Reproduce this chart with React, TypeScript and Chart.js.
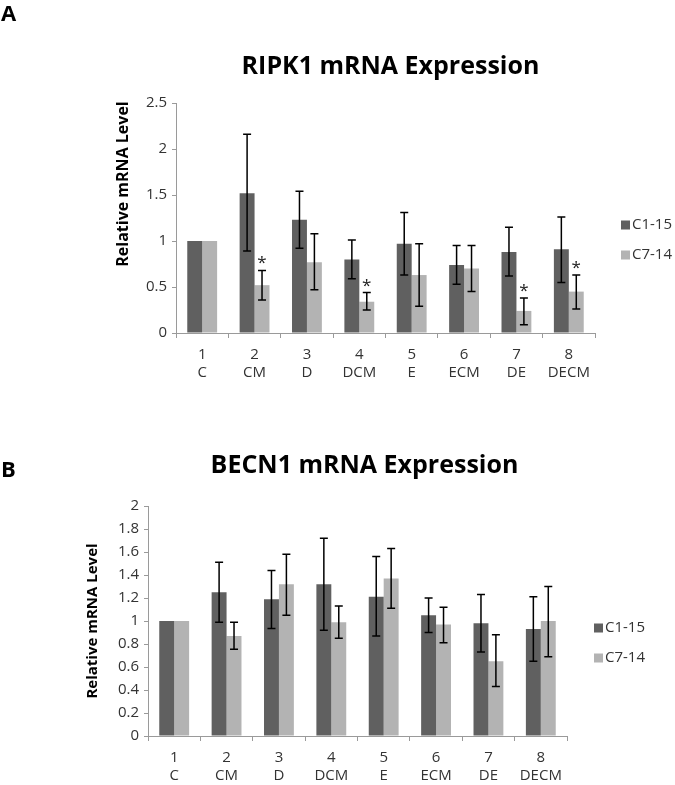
import React, { useEffect, useRef } from "react";
import { Chart, registerables } from "chart.js";

Chart.register(...registerables);

const categoryNumbers = ["1", "2", "3", "4", "5", "6", "7", "8"];
const categoryNames = ["C", "CM", "D", "DCM", "E", "ECM", "DE", "DECM"];
const seriesNames = ["C1-15", "C7-14"];
const seriesColors = ["#606060", "#b3b3b3"];
const yAxisTitle = "Relative mRNA Level";

const ripk1C115 = [1, 1.52, 1.23, 0.8, 0.97, 0.74, 0.88, 0.91];
const ripk1C115Low = [1, 0.89, 0.92, 0.59, 0.63, 0.53, 0.62, 0.55];
const ripk1C115High = [1, 2.16, 1.54, 1.01, 1.31, 0.95, 1.15, 1.26];
const ripk1C714 = [1, 0.52, 0.77, 0.34, 0.63, 0.7, 0.24, 0.45];
const ripk1C714Low = [1, 0.36, 0.47, 0.25, 0.29, 0.45, 0.09, 0.26];
const ripk1C714High = [1, 0.68, 1.08, 0.44, 0.97, 0.95, 0.38, 0.63];
const ripk1C714Sig = [false, true, false, true, false, false, true, true];

const becn1C115 = [1, 1.25, 1.19, 1.32, 1.21, 1.05, 0.98, 0.93];
const becn1C115Low = [1, 0.99, 0.935, 0.92, 0.87, 0.9, 0.73, 0.65];
const becn1C115High = [1, 1.51, 1.44, 1.72, 1.56, 1.2, 1.23, 1.21];
const becn1C714 = [1, 0.87, 1.32, 0.99, 1.37, 0.97, 0.65, 1.0];
const becn1C714Low = [1, 0.755, 1.05, 0.85, 1.11, 0.81, 0.43, 0.69];
const becn1C714High = [1, 0.99, 1.58, 1.13, 1.63, 1.12, 0.88, 1.3];
const noSig = [false, false, false, false, false, false, false, false];

const FONT = "'Open Sans', 'DejaVu Sans', sans-serif";

const annotatePlugin = {
  id: "annotate",
  afterDatasetsDraw(chart: any, _args: any, opts: any) {
    const ctx = chart.ctx;
    const ys = chart.scales.y;
    ctx.save();
    opts.errors.forEach((err: any, di: number) => {
      const meta = chart.getDatasetMeta(di);
      meta.data.forEach((bar: any, i: number) => {
        const lo = err.low[i];
        const hi = err.high[i];
        const yHi = ys.getPixelForValue(hi);
        if (hi > lo) {
          const yLo = ys.getPixelForValue(lo);
          ctx.strokeStyle = "#000";
          ctx.lineWidth = 1.5;
          ctx.beginPath();
          ctx.moveTo(bar.x, yHi);
          ctx.lineTo(bar.x, yLo);
          ctx.moveTo(bar.x - 4, yHi);
          ctx.lineTo(bar.x + 4, yHi);
          ctx.moveTo(bar.x - 4, yLo);
          ctx.lineTo(bar.x + 4, yLo);
          ctx.stroke();
        }
        if (err.sig[i]) {
          ctx.fillStyle = "#222";
          ctx.font = `17px ${FONT}`;
          ctx.textAlign = "center";
          ctx.textBaseline = "alphabetic";
          ctx.fillText("*", bar.x, yHi - 2);
        }
      });
    });
    ctx.restore();
  },
  afterDraw(chart: any, _args: any, opts: any) {
    const ctx = chart.ctx;
    const area = chart.chartArea;
    ctx.save();
    // panel label
    ctx.fillStyle = "#000";
    ctx.font = `bold 22px ${FONT}`;
    ctx.textAlign = "left";
    ctx.textBaseline = "middle";
    ctx.fillText(opts.panel, 1, opts.panelY);
    // title
    ctx.font = `bold 25px ${FONT}`;
    ctx.textAlign = "center";
    ctx.fillText(opts.title, (area.left + area.right) / 2 + opts.titleDx, opts.titleY);
    // y axis title
    ctx.save();
    ctx.translate(area.left - opts.yTitleDx, (area.top + area.bottom) / 2 + opts.yTitleDy);
    ctx.rotate(-Math.PI / 2);
    ctx.font = `bold ${opts.yTitleSize}px ${FONT}`;
    ctx.textAlign = "center";
    ctx.textBaseline = "middle";
    ctx.fillText(yAxisTitle, 0, 0);
    ctx.restore();
    // legend
    const cy = (area.top + area.bottom) / 2 + 22;
    ctx.font = `15px ${FONT}`;
    ctx.textAlign = "left";
    ctx.textBaseline = "middle";
    seriesNames.forEach((name, i) => {
      const y = cy + (i === 0 ? -15 : 15);
      const x = area.right + opts.legendDx;
      ctx.fillStyle = seriesColors[i];
      ctx.fillRect(x, y - 4.5, 9, 9);
      ctx.fillStyle = "#333";
      ctx.fillText(name, x + 11, y);
    });
    ctx.restore();
  },
};

type Spec = {
  panel: string;
  panelY: number;
  title: string;
  titleY: number;
  titleDx: number;
  legendDx: number;
  yTitleDx: number;
  yTitleDy: number;
  yTitleSize: number;
  max: number;
  step: number;
  c115: number[];
  c714: number[];
  errors: { low: number[]; high: number[]; sig: boolean[] }[];
  padding: { left: number; right: number; top: number; bottom: number };
  yWidth: number;
  xHeight: number;
};

function makeChart(canvas: HTMLCanvasElement, s: Spec) {
  const labels = categoryNumbers.map((n, i) => [n, categoryNames[i]]);
  return new Chart(canvas, {
    type: "bar",
    data: {
      labels,
      datasets: [
        { label: seriesNames[0], data: s.c115, backgroundColor: seriesColors[0], borderWidth: 0 },
        { label: seriesNames[1], data: s.c714, backgroundColor: seriesColors[1], borderWidth: 0 },
      ],
    },
    plugins: [annotatePlugin as any],
    options: {
      animation: false,
      responsive: false,
      events: [],
      layout: { padding: s.padding },
      datasets: { bar: { categoryPercentage: 0.57, barPercentage: 1 } },
      plugins: {
        legend: { display: false },
        tooltip: { enabled: false },
        annotate: {
          errors: s.errors,
          panel: s.panel,
          panelY: s.panelY,
          title: s.title,
          titleY: s.titleY,
          titleDx: s.titleDx,
          legendDx: s.legendDx,
          yTitleDx: s.yTitleDx,
          yTitleDy: s.yTitleDy,
          yTitleSize: s.yTitleSize,
        },
      } as any,
      scales: {
        x: {
          offset: true,
          afterFit: (sc: any) => {
            sc.height = s.xHeight;
          },
          grid: {
            offset: true,
            drawOnChartArea: false,
            drawTicks: true,
            tickLength: 5,
            color: "#9a9a9a",
          },
          border: { display: true, color: "#9a9a9a", width: 1 },
          ticks: {
            color: "#333",
            padding: 7,
            maxRotation: 0,
            autoSkip: false,
            font: { family: FONT, size: 15, lineHeight: 1.25 },
          },
        },
        y: {
          min: 0,
          max: s.max,
          afterFit: (sc: any) => {
            sc.width = s.yWidth;
          },
          grid: {
            drawOnChartArea: false,
            drawTicks: true,
            tickLength: 4,
            color: "#9a9a9a",
          },
          border: { display: true, color: "#9a9a9a", width: 1 },
          ticks: {
            stepSize: s.step,
            color: "#333",
            padding: 5,
            font: { family: FONT, size: 15 },
            callback: (v: any) => `${Math.round(Number(v) * 10) / 10}`,
          },
        },
      },
    } as any,
  });
}

const specA: Spec = {
  panel: "A",
  panelY: 15,
  title: "RIPK1 mRNA Expression",
  titleY: 67,
  titleDx: 5,
  legendDx: 26,
  yTitleDx: 53,
  yTitleDy: -34,
  yTitleSize: 16,
  max: 2.5,
  step: 0.5,
  c115: ripk1C115,
  c714: ripk1C714,
  errors: [
    { low: ripk1C115Low, high: ripk1C115High, sig: noSig },
    { low: ripk1C714Low, high: ripk1C714High, sig: ripk1C714Sig },
  ],
  padding: { left: 111, right: 80, top: 103, bottom: 7 },
  yWidth: 65,
  xHeight: 60,
};

const specB: Spec = {
  panel: "B",
  panelY: 71,
  title: "BECN1 mRNA Expression",
  titleY: 66,
  titleDx: 7,
  legendDx: 27,
  yTitleDx: 55,
  yTitleDy: 0,
  yTitleSize: 15,
  max: 2,
  step: 0.2,
  c115: becn1C115,
  c714: becn1C714,
  errors: [
    { low: becn1C115Low, high: becn1C115High, sig: noSig },
    { low: becn1C714Low, high: becn1C714High, sig: noSig },
  ],
  padding: { left: 81, right: 108, top: 106, bottom: 0 },
  yWidth: 67,
  xHeight: 49,
};

function Panel({ spec, height, top }: { spec: Spec; height: number; top: number }) {
  const ref = useRef<HTMLCanvasElement | null>(null);
  useEffect(() => {
    if (!ref.current) return;
    const chart = makeChart(ref.current, spec);
    return () => chart.destroy();
  }, [spec]);
  return (
    <canvas
      ref={ref}
      width={675}
      height={height}
      style={{ position: "absolute", left: 0, top, width: 675, height, display: "block" }}
    />
  );
}

export default function App() {
  return (
    <div style={{ position: "absolute", left: 0, top: 0, width: 675, height: 785, background: "#fff" }}>
      <Panel spec={specA} height={400} top={0} />
      <Panel spec={specB} height={385} top={400} />
    </div>
  );
}
